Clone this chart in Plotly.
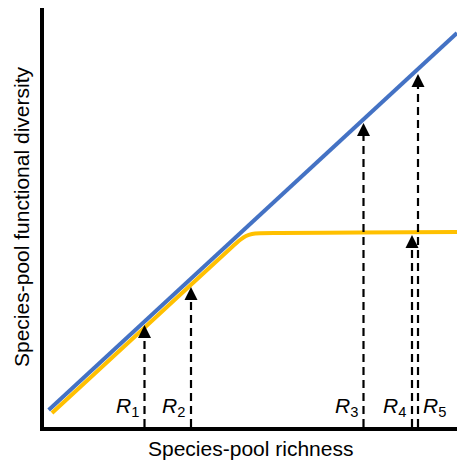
import plotly.graph_objects as go

# Data (arbitrary units: richness on x, functional diversity on y)
blue_x = [4.7, 413]
blue_y = [17, 394]

yellow_x = [8, 98, 188, 196, 202, 208, 216, 236, 316, 413]
yellow_y = [14, 97, 180, 187, 191, 193, 193.8, 194, 194.4, 195]

pool_labels = ["1", "2", "3", "4", "5"]
pool_x = [100.5, 147, 319.5, 368, 374]
pool_tip = [102, 140, 304, 192, 353]

BLUE = "#4472C4"
YELLOW = "#FFC000"
FONT = "Liberation Sans, Arial, sans-serif"

fig = go.Figure()

fig.add_trace(go.Scatter(x=blue_x, y=blue_y, mode="lines",
                         line=dict(color=BLUE, width=4), hoverinfo="skip"))
fig.add_trace(go.Scatter(x=yellow_x, y=yellow_y, mode="lines",
                         line=dict(color=YELLOW, width=4, shape="spline", smoothing=0.8),
                         hoverinfo="skip"))

# dashed vertical lines from axis to just below each arrow head
for xv, tip in zip(pool_x, pool_tip):
    fig.add_trace(go.Scatter(x=[xv, xv], y=[0, tip - 13], mode="lines",
                             line=dict(color="black", width=2.2, dash="8px,5px"),
                             hoverinfo="skip"))

# arrow heads
fig.add_trace(go.Scatter(x=pool_x, y=pool_tip, mode="markers",
                         marker=dict(symbol="arrow-up", size=13, color="black",
                                     line=dict(width=0)),
                         hoverinfo="skip"))

# R labels
for i, (sub, xv) in enumerate(zip(pool_labels, pool_x)):
    left = (i == 4)
    fig.add_annotation(x=xv, y=5, xref="x", yref="y",
                       text="<i>R</i><sub>" + sub + "</sub>",
                       showarrow=False,
                       xanchor="left" if left else "right", yanchor="bottom",
                       xshift=3 if left else -4,
                       font=dict(family=FONT, size=21, color="black"))

# axis titles
fig.add_annotation(x=0.5, y=0, xref="paper", yref="paper", text="Species-pool richness",
                   showarrow=False, xanchor="center", yanchor="top", yshift=-8,
                   font=dict(family=FONT, size=21, color="black"))
fig.add_annotation(x=0, y=0.5, xref="paper", yref="paper",
                   text="Species-pool functional diversity", textangle=-90,
                   showarrow=False, xanchor="right", yanchor="middle", xshift=-9,
                   font=dict(family=FONT, size=21, color="black"))

fig.update_layout(
    width=457, height=462,
    margin=dict(l=44, r=0, t=8, b=35),
    paper_bgcolor="white", plot_bgcolor="white",
    showlegend=False,
    xaxis=dict(range=[0, 413], showgrid=False, zeroline=False, showticklabels=False,
               ticks="", showline=True, linecolor="black", linewidth=4, fixedrange=True),
    yaxis=dict(range=[0, 419], showgrid=False, zeroline=False, showticklabels=False,
               ticks="", showline=True, linecolor="black", linewidth=4, fixedrange=True),
)

fig.write_html("out.html", config={"displayModeBar": False},
               post_script="document.body.style.margin='0';document.body.style.padding='0';")
